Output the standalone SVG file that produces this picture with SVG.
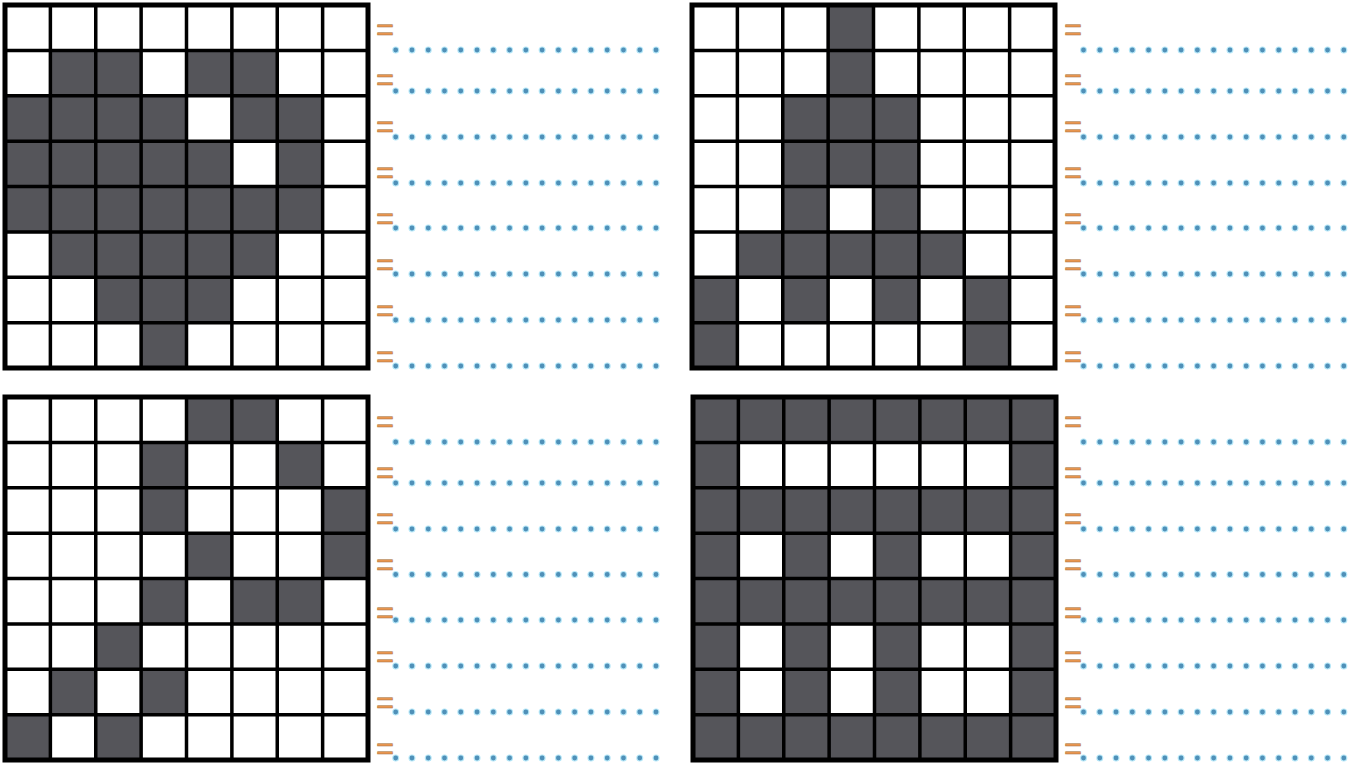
<svg xmlns="http://www.w3.org/2000/svg" width="1359" height="764" viewBox="0 0 1359 764">
<style>
.d{fill:#55555a}
.gl{fill:none;stroke:#000;stroke-width:3.5;vector-effect:non-scaling-stroke}
.go{fill:none;stroke:#000;stroke-width:5;vector-effect:non-scaling-stroke}
.eq{font-family:"Liberation Sans",Arial,sans-serif;font-size:31px;fill:#e8954f;stroke:#a8743c;stroke-width:0.5}
.halo{stroke:#b5e6f7;stroke-width:7;stroke-linecap:round;stroke-dasharray:0 16.27;fill:none}
.dot{stroke:#4f90b8;stroke-width:4.8;stroke-linecap:round;stroke-dasharray:0 16.27;fill:none}
</style>
<defs>
<g id="lines">
<path class="gl" d="M1 0V8M2 0V8M3 0V8M4 0V8M5 0V8M6 0V8M7 0V8M0 1H8M0 2H8M0 3H8M0 4H8M0 5H8M0 6H8M0 7H8"/>
<rect class="go" x="0" y="0" width="8" height="8"/>
</g>
<g id="row">
<line class="halo" x1="0" y1="0" x2="260.6" y2="0"/>
<line class="dot" x1="0" y1="0" x2="260.6" y2="0"/>
</g>
</defs>
<rect width="1359" height="764" fill="#fff"/>

<g id="grid-top-left" transform="translate(5,5) scale(45.375)">
<rect class="d" x="1" y="1" width="2" height="1"/><rect class="d" x="4" y="1" width="2" height="1"/>
<rect class="d" x="0" y="2" width="4" height="1"/><rect class="d" x="5" y="2" width="2" height="1"/>
<rect class="d" x="0" y="3" width="5" height="1"/><rect class="d" x="6" y="3" width="1" height="1"/>
<rect class="d" x="0" y="4" width="7" height="1"/>
<rect class="d" x="1" y="5" width="5" height="1"/>
<rect class="d" x="2" y="6" width="3" height="1"/>
<rect class="d" x="3" y="7" width="1" height="1"/>
<use href="#lines"/>
</g>

<g id="grid-top-right" transform="translate(692,5) scale(45.375)">
<rect class="d" x="3" y="0" width="1" height="2"/>
<rect class="d" x="2" y="2" width="3" height="2"/>
<rect class="d" x="2" y="4" width="1" height="1"/><rect class="d" x="4" y="4" width="1" height="1"/>
<rect class="d" x="1" y="5" width="5" height="1"/>
<rect class="d" x="0" y="6" width="1" height="2"/><rect class="d" x="2" y="6" width="1" height="1"/><rect class="d" x="4" y="6" width="1" height="1"/><rect class="d" x="6" y="6" width="1" height="2"/>
<use href="#lines"/>
</g>

<g id="grid-bottom-left" transform="translate(5,397) scale(45.375)">
<rect class="d" x="4" y="0" width="2" height="1"/>
<rect class="d" x="3" y="1" width="1" height="2"/><rect class="d" x="6" y="1" width="1" height="1"/>
<rect class="d" x="7" y="2" width="1" height="2"/>
<rect class="d" x="4" y="3" width="1" height="1"/>
<rect class="d" x="3" y="4" width="1" height="1"/><rect class="d" x="5" y="4" width="2" height="1"/>
<rect class="d" x="2" y="5" width="1" height="1"/>
<rect class="d" x="1" y="6" width="1" height="1"/><rect class="d" x="3" y="6" width="1" height="1"/>
<rect class="d" x="0" y="7" width="1" height="1"/><rect class="d" x="2" y="7" width="1" height="1"/>
<use href="#lines"/>
</g>

<g id="grid-bottom-right" transform="translate(693,397) scale(45.375)">
<rect class="d" x="0" y="0" width="8" height="8"/>
<rect fill="#fff" x="1" y="1" width="6" height="1"/>
<rect fill="#fff" x="1" y="3" width="1" height="1"/><rect fill="#fff" x="3" y="3" width="1" height="1"/><rect fill="#fff" x="5" y="3" width="2" height="1"/>
<rect fill="#fff" x="1" y="5" width="1" height="2"/><rect fill="#fff" x="3" y="5" width="1" height="2"/><rect fill="#fff" x="5" y="5" width="2" height="2"/>
<use href="#lines"/>
</g>

<g id="equals">
<text class="eq" x="376" y="40">=</text>
<text class="eq" x="376" y="89.8">=</text>
<text class="eq" x="376" y="137.3">=</text>
<text class="eq" x="376" y="183.3">=</text>
<text class="eq" x="376" y="228.8">=</text>
<text class="eq" x="376" y="275.3">=</text>
<text class="eq" x="376" y="320.7">=</text>
<text class="eq" x="376" y="366.8">=</text>
<text class="eq" x="1064" y="40">=</text>
<text class="eq" x="1064" y="89.8">=</text>
<text class="eq" x="1064" y="137.3">=</text>
<text class="eq" x="1064" y="183.3">=</text>
<text class="eq" x="1064" y="228.8">=</text>
<text class="eq" x="1064" y="275.3">=</text>
<text class="eq" x="1064" y="320.7">=</text>
<text class="eq" x="1064" y="366.8">=</text>
<text class="eq" x="376" y="432.3">=</text>
<text class="eq" x="376" y="482.6">=</text>
<text class="eq" x="376" y="529.3">=</text>
<text class="eq" x="376" y="575.3">=</text>
<text class="eq" x="376" y="622.6">=</text>
<text class="eq" x="376" y="667">=</text>
<text class="eq" x="376" y="712.6">=</text>
<text class="eq" x="376" y="759.3">=</text>
<text class="eq" x="1064" y="432.3">=</text>
<text class="eq" x="1064" y="482.6">=</text>
<text class="eq" x="1064" y="529.3">=</text>
<text class="eq" x="1064" y="575.3">=</text>
<text class="eq" x="1064" y="622.6">=</text>
<text class="eq" x="1064" y="667">=</text>
<text class="eq" x="1064" y="712.6">=</text>
<text class="eq" x="1064" y="759.3">=</text>
</g>

<g id="dots">
<use href="#row" x="395.7" y="50"/>
<use href="#row" x="395.7" y="91"/>
<use href="#row" x="395.7" y="137"/>
<use href="#row" x="395.7" y="183"/>
<use href="#row" x="395.7" y="228"/>
<use href="#row" x="395.7" y="274"/>
<use href="#row" x="395.7" y="320"/>
<use href="#row" x="395.7" y="366"/>
<use href="#row" x="1083.5" y="50"/>
<use href="#row" x="1083.5" y="91"/>
<use href="#row" x="1083.5" y="137"/>
<use href="#row" x="1083.5" y="183"/>
<use href="#row" x="1083.5" y="228"/>
<use href="#row" x="1083.5" y="274"/>
<use href="#row" x="1083.5" y="320"/>
<use href="#row" x="1083.5" y="366"/>
<use href="#row" x="395.7" y="442"/>
<use href="#row" x="395.7" y="483"/>
<use href="#row" x="395.7" y="529"/>
<use href="#row" x="395.7" y="574.5"/>
<use href="#row" x="395.7" y="620"/>
<use href="#row" x="395.7" y="666"/>
<use href="#row" x="395.7" y="712"/>
<use href="#row" x="395.7" y="758"/>
<use href="#row" x="1083.5" y="442"/>
<use href="#row" x="1083.5" y="483"/>
<use href="#row" x="1083.5" y="529"/>
<use href="#row" x="1083.5" y="574.5"/>
<use href="#row" x="1083.5" y="620"/>
<use href="#row" x="1083.5" y="666"/>
<use href="#row" x="1083.5" y="712"/>
<use href="#row" x="1083.5" y="758"/>
</g>
</svg>
